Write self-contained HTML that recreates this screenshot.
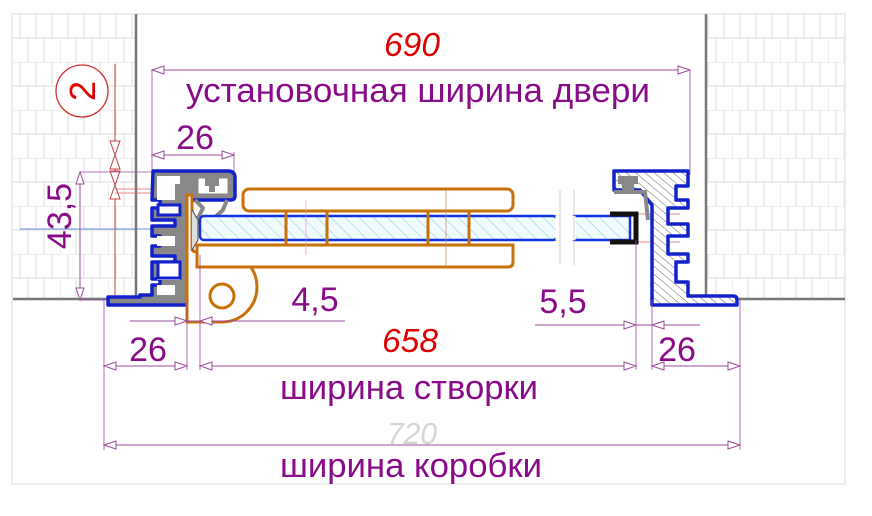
<!DOCTYPE html>
<html><head><meta charset="utf-8"><style>
html,body{margin:0;padding:0;background:#fff;width:872px;height:516px;overflow:hidden}
svg{display:block}
text{font-family:"Liberation Sans",sans-serif}
</style></head><body>
<svg width="872" height="516" viewBox="0 0 872 516" xmlns="http://www.w3.org/2000/svg">
<defs>
<pattern id="brick" width="48" height="48" patternUnits="userSpaceOnUse" x="12" y="14">
<rect width="48" height="48" fill="#fff"/>
<path d="M0 0H48M0 24H48M8 0V24M24 0V24M40 0V24M0 24V48M16 24V48M32 24V48" stroke="#e4e4e4" stroke-width="1.2" fill="none"/>
</pattern>
<pattern id="hatch" width="6" height="6" patternUnits="userSpaceOnUse" patternTransform="rotate(-50)">
<rect width="6" height="6" fill="#fff"/><line x1="0" y1="0" x2="0" y2="6" stroke="#666" stroke-width="1"/>
</pattern>
<pattern id="glass" width="10" height="10" patternUnits="userSpaceOnUse" patternTransform="rotate(-45)">
<rect width="10" height="10" fill="#f2fbff"/><line x1="0" y1="0" x2="0" y2="10" stroke="#5bc0d8" stroke-width="0.8"/>
</pattern>
</defs>
<rect x="12" y="14" width="833" height="470" fill="none" stroke="#ececec" stroke-width="2"/>
<rect x="13" y="15" width="122" height="283" fill="url(#brick)"/>
<rect x="707" y="15" width="137" height="283" fill="url(#brick)"/>
<path d="M136 14V299H13" stroke="#777" stroke-width="2.5" fill="none"/>
<path d="M706 14V299H845" stroke="#777" stroke-width="2.5" fill="none"/>
<text x="412" y="56" font-size="33" fill="#e00000" font-style="italic" text-anchor="middle" textLength="56" lengthAdjust="spacingAndGlyphs">690</text>
<line x1="152" y1="70" x2="690" y2="70" stroke="#9b4c9b" stroke-width="1"/>
<path d="M152 70l12-4v8zM690 70l-12-4v8z" fill="#fff" stroke="#9b4c9b"/>
<line x1="152" y1="70" x2="152" y2="175" stroke="#9b4c9b" stroke-width="0.8"/>
<line x1="690" y1="70" x2="690" y2="175" stroke="#9b4c9b" stroke-width="0.8"/>
<text x="186" y="102" font-size="34" fill="#8a0b8a" textLength="464" lengthAdjust="spacingAndGlyphs">установочная ширина двери</text>
<circle cx="82" cy="91" r="26" fill="#fff" stroke="#d03030" stroke-width="1.3"/>
<text x="0" y="0" font-size="36" fill="#e00000" text-anchor="middle" transform="translate(95,91) rotate(-90)">2</text>
<line x1="115" y1="64" x2="115" y2="295" stroke="#c04040" stroke-width="1"/>
<path d="M115 155l-5-14h10zM115 185l-5 14h10z" fill="#fff" stroke="#c04040"/>
<path d="M115 155l-5 14h10zM115 185l-5-14h10z" fill="#fff" stroke="#c04040"/>
<text font-size="34" fill="#8a0b8a" text-anchor="middle" transform="translate(71,216) rotate(-90)">43,5</text>
<line x1="80" y1="172" x2="80" y2="300" stroke="#9b4c9b"/>
<line x1="80" y1="172" x2="152" y2="172" stroke="#9b4c9b" stroke-width="0.8"/>
<line x1="80" y1="300" x2="105" y2="300" stroke="#9b4c9b" stroke-width="0.8"/>
<path d="M80 172l-4 12h8zM80 300l-4-12h8z" fill="#fff" stroke="#9b4c9b"/>
<text x="195" y="149" font-size="34" fill="#8a0b8a" text-anchor="middle">26</text>
<line x1="152" y1="155" x2="234" y2="155" stroke="#9b4c9b"/>
<line x1="234" y1="152" x2="234" y2="172" stroke="#9b4c9b" stroke-width="0.8"/>
<path d="M152 155l12-4v8zM234 155l-12-4v8z" fill="#fff" stroke="#9b4c9b"/>
<g stroke="#e06060" stroke-width="0.8">
<line x1="115" y1="189" x2="190" y2="189"/><line x1="115" y1="193" x2="190" y2="193"/>
<line x1="170" y1="218" x2="190" y2="218"/><line x1="170" y1="242" x2="190" y2="242"/>
<line x1="222" y1="270" x2="222" y2="322"/><line x1="198" y1="296" x2="248" y2="296"/>
<line x1="635" y1="214" x2="680" y2="214"/><line x1="635" y1="242" x2="680" y2="242"/>
</g>
<line x1="20" y1="229" x2="200" y2="229" stroke="#3366cc" stroke-width="0.8"/>
<path d="M153 171H228Q235 171 235 178V196Q235 200 230 200H190V305H108V297H140V295H152V285H160V279H152V262H175V256H152V246H160V236H152V226H175V220H152V208H160V200H152Z" fill="#888" stroke="#1122cc" stroke-width="3.5" stroke-linejoin="round"/>
<path d="M157 176H175V200H157ZM157 236H175V246H157ZM157 285H175V295H157Z" fill="#fff"/>
<path d="M157 176H180V184H157Z M157 262H180V280H157Z" fill="#fff"/>
<path d="M158 205H180V215H158ZM158 262H180V278H158Z" fill="#fff" stroke="#1122cc" stroke-width="3"/>
<path d="M198 178H228V194H198Z" fill="#fff" stroke="#888" stroke-width="1"/>
<path d="M205 178h14v8h-4v6h-6v-6h-4z" fill="#888"/>
<path d="M195 200l8 8-6 12 8 6 18-16 4-10" fill="none" stroke="#888" stroke-width="4" stroke-linejoin="round"/>
<path d="M187 195H192V248Q192 252 197 252H222A27 27 0 0 1 222 322H187Z" fill="#fff" stroke="#c8700a" stroke-width="3" stroke-linejoin="round"/>
<circle cx="222" cy="296" r="12" fill="#fff" stroke="#c8700a" stroke-width="3"/>
<path d="M192 210l6 10v20l-6 10" fill="#ddd" stroke="#444" stroke-width="1"/>
<rect x="200" y="216" width="357" height="24" rx="4" fill="url(#glass)" stroke="#1133dd" stroke-width="2.5"/>
<rect x="574" y="216" width="56" height="24" fill="url(#glass)" stroke="#1133dd" stroke-width="2.5"/>
<line x1="557" y1="216" x2="557" y2="240" stroke="#fff" stroke-width="3"/>
<line x1="574" y1="216" x2="574" y2="240" stroke="#fff" stroke-width="3"/>
<line x1="560" y1="190" x2="560" y2="265" stroke="#ccc"/><line x1="574" y1="190" x2="574" y2="265" stroke="#ccc"/>
<rect x="243" y="189" width="270" height="22" rx="6" fill="#fff" stroke="#c8700a" stroke-width="3"/>
<path d="M197 245H513V262Q513 267 508 267H197Z" fill="#fff" stroke="#c8700a" stroke-width="3"/>
<g stroke="#c8700a" stroke-width="3"><line x1="286" y1="211" x2="286" y2="245"/><line x1="327" y1="211" x2="327" y2="245"/><line x1="428" y1="211" x2="428" y2="245"/><line x1="469" y1="211" x2="469" y2="245"/></g>
<line x1="446" y1="190" x2="446" y2="267" stroke="#c89070" stroke-width="0.8"/>
<line x1="306" y1="200" x2="306" y2="255" stroke="#e09090" stroke-width="0.6"/>
<path d="M614 171H688V186H676V200H688V208H668V224H688V236H668V254H688V262H676V282H688V296H733Q737 296 737 300V305H652V205L640 190H614Z" fill="url(#hatch)" stroke="#1122cc" stroke-width="3.5" stroke-linejoin="round"/>
<path d="M618 176h20v8h-4v6h-12v-6h-4z" fill="#888"/>
<path d="M614 192H645L648 220" fill="none" stroke="#888" stroke-width="4"/>
<path d="M610 214H636V242H610" fill="none" stroke="#111" stroke-width="5"/>
<text x="315" y="311" font-size="34" fill="#8a0b8a" text-anchor="middle">4,5</text>
<line x1="130" y1="321" x2="345" y2="321" stroke="#9b4c9b"/>
<path d="M187 321l-12-4v8zM200 321l12-4v8z" fill="#fff" stroke="#9b4c9b"/>
<text x="563" y="313" font-size="34" fill="#8a0b8a" text-anchor="middle">5,5</text>
<line x1="535" y1="325" x2="700" y2="325" stroke="#9b4c9b"/>
<path d="M636 325l-12-4v8zM652 325l12-4v8z" fill="#fff" stroke="#9b4c9b"/>
<text x="410" y="352" font-size="33" fill="#e00000" font-style="italic" text-anchor="middle" textLength="56" lengthAdjust="spacingAndGlyphs">658</text>
<g stroke="#9b4c9b" stroke-width="0.8">
<line x1="104" y1="300" x2="104" y2="450"/><line x1="187" y1="300" x2="187" y2="370"/>
<line x1="200" y1="255" x2="200" y2="370"/><line x1="636" y1="240" x2="636" y2="370"/>
<line x1="652" y1="300" x2="652" y2="370"/><line x1="740" y1="300" x2="740" y2="450"/>
</g>
<g stroke="#9b4c9b"><line x1="104" y1="366" x2="187" y2="366"/><line x1="200" y1="366" x2="636" y2="366"/><line x1="652" y1="366" x2="740" y2="366"/><line x1="104" y1="445" x2="740" y2="445"/></g>
<path d="M104 366l12-4v8zM187 366l-12-4v8zM200 366l12-4v8zM636 366l-12-4v8zM652 366l12-4v8zM740 366l-12-4v8zM104 445l12-4v8zM740 445l-12-4v8z" fill="#fff" stroke="#9b4c9b"/>
<text x="148" y="361" font-size="34" fill="#8a0b8a" text-anchor="middle">26</text>
<text x="677" y="361" font-size="34" fill="#8a0b8a" text-anchor="middle">26</text>
<text x="280" y="399" font-size="34" fill="#8a0b8a" textLength="258" lengthAdjust="spacingAndGlyphs">ширина створки</text>
<text x="412" y="444" font-size="31" fill="#d4d4d4" font-style="italic" text-anchor="middle" textLength="50" lengthAdjust="spacingAndGlyphs">720</text>
<text x="280" y="477" font-size="34" fill="#8a0b8a" textLength="262" lengthAdjust="spacingAndGlyphs">ширина коробки</text>
</svg>
</body></html>
